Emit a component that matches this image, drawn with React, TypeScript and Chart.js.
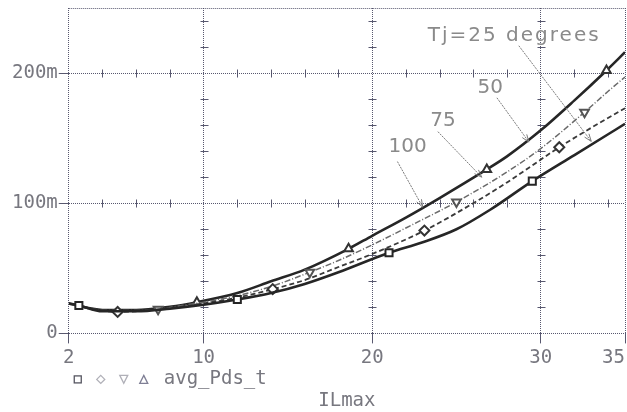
import React, { useEffect, useRef } from 'react';
import { Chart, registerables } from 'chart.js';

Chart.register(...registerables);

// ---- data (y values in milli-units, "m") ----
const xTickValues = [2, 10, 20, 30, 35];
const yTickValues = [0, 100, 200];
const minorXTicks = [4, 6, 8, 12, 14, 16, 18, 22, 24, 26, 28, 32, 34];
const minorYTicks = [20, 40, 60, 80, 120, 140, 160, 180, 220, 240];

// Tj = 25 (bottom solid, square markers)
const sqX = [2, 2.6, 4, 6, 8, 10, 12, 14, 16, 18, 21, 23, 25, 27, 29.5, 32, 34, 35];
const sqY = [23, 21.5, 17, 17, 19, 22, 26, 31, 38, 47, 62, 70, 80, 95, 117, 137, 153, 161];
const sqMarks = [2.6, 12, 21, 29.5];

// dashed, diamond markers
const dmX = [2, 4, 4.9, 6, 8, 10, 12, 14.1, 16, 18, 20, 23.1, 26, 28, 31.1, 33, 35];
const dmY = [23, 17.5, 16.5, 17, 19.5, 23, 27.5, 34, 41, 51, 61, 79, 100, 116, 143, 158, 173];
const dmMarks = [4.9, 14.1, 23.1, 31.1];

// dash-dot, down-triangle markers
const tdX = [2, 4, 6, 7.3, 8, 10, 12, 14, 16.3, 18, 20, 22, 25, 28, 30, 32.6, 34, 35];
const tdY = [23, 17.5, 17.5, 18.5, 20, 24, 29, 36, 47, 56, 68, 81, 101, 124, 142, 170, 186, 197];
const tdMarks = [7.3, 16.3, 25, 32.6];

// top solid, up-triangle markers
const tuX = [2, 4, 6, 8, 9.6, 12, 14, 16, 18.6, 20, 22, 24, 26.8, 28, 30, 32, 33.9, 35];
const tuY = [23, 18, 18, 20.5, 24, 31, 40, 49, 65, 75, 89, 104, 126, 136, 156, 179, 202, 216];
const tuMarks = [9.6, 18.6, 26.8, 33.9];

// annotations: label, text anchor (x, y), arrow start, arrow end (data units)
const noteLabels = ['Tj=25 degrees', '50', '75', '100'];
const noteText = [[23.3, 229], [27.0, 188.5], [24.2, 163.5], [22.1, 143]];
const noteFrom = [[28.7, 221], [27.4, 181], [23.9, 155], [21.5, 132]];
const noteTo = [[33.0, 147.5], [29.3, 147], [26.5, 120], [23.0, 97]];

const legendText = 'avg_Pds_t';
const xTitle = 'ILmax';

const MONO = "'DejaVu Sans Mono', monospace";
const SANS = "'DejaVu Sans', sans-serif";
const GRID = 'rgba(70,70,95,0.9)';
const TEXT = '#77777f';

const pts = (xs: number[], ys: number[]) => xs.map((x, i) => ({ x, y: ys[i] }));
const radiusAt = (marks: number[]) => (c: any) => (c.raw && marks.includes(c.raw.x) ? 5 : 0);

const decoPlugin = {
  id: 'deco',
  beforeDatasetsDraw(chart: any) {
    const { ctx, chartArea: a, scales } = chart;
    const x = scales.x, y = scales.y;
    ctx.save();
    ctx.strokeStyle = GRID;
    ctx.lineWidth = 1;
    ctx.setLineDash([1, 1]);
    ctx.beginPath();
    ctx.moveTo(a.left, Math.round(a.top) + 0.5);
    ctx.lineTo(a.right, Math.round(a.top) + 0.5);
    ctx.stroke();
    ctx.setLineDash([]);
    ctx.beginPath();
    [100, 200].forEach((yv) => {
      const py = Math.round(y.getPixelForValue(yv)) + 0.5;
      minorXTicks.forEach((xv) => {
        const px = Math.round(x.getPixelForValue(xv)) + 0.5;
        ctx.moveTo(px, py - 4);
        ctx.lineTo(px, py + 4);
      });
    });
    [10, 20, 30].forEach((xv) => {
      const px = Math.round(x.getPixelForValue(xv)) + 0.5;
      minorYTicks.forEach((yv) => {
        const py = Math.round(y.getPixelForValue(yv)) + 0.5;
        ctx.moveTo(px - 4, py);
        ctx.lineTo(px + 4, py);
      });
    });
    ctx.stroke();
    ctx.restore();
  },
  afterDatasetsDraw(chart: any) {
    const { ctx, chartArea: a, scales } = chart;
    const x = scales.x, y = scales.y;
    ctx.save();
    // annotations
    ctx.font = `20px ${SANS}`;
    ctx.fillStyle = '#8a8a8a';
    ctx.textBaseline = 'middle';
    noteLabels.forEach((lab, i) => {
      const tx = x.getPixelForValue(noteText[i][0]);
      const ty = y.getPixelForValue(noteText[i][1]);
      ctx.textAlign = i === 0 ? 'left' : 'center';
      (ctx as any).letterSpacing = i === 0 ? '2px' : '0px';
      ctx.fillText(lab, tx, ty);
      (ctx as any).letterSpacing = '0px';
      const x1 = x.getPixelForValue(noteFrom[i][0]);
      const y1 = y.getPixelForValue(noteFrom[i][1]);
      const x2 = x.getPixelForValue(noteTo[i][0]);
      const y2 = y.getPixelForValue(noteTo[i][1]);
      ctx.strokeStyle = '#7a7a7a';
      ctx.lineWidth = 1;
      ctx.setLineDash([2, 1]);
      ctx.beginPath();
      ctx.moveTo(x1, y1);
      ctx.lineTo(x2, y2);
      ctx.stroke();
      ctx.setLineDash([]);
      const ang = Math.atan2(y2 - y1, x2 - x1);
      const h = 8;
      ctx.beginPath();
      ctx.moveTo(x2 - h * Math.cos(ang - 0.35), y2 - h * Math.sin(ang - 0.35));
      ctx.lineTo(x2, y2);
      ctx.lineTo(x2 - h * Math.cos(ang + 0.35), y2 - h * Math.sin(ang + 0.35));
      ctx.stroke();
    });
    // legend row
    const ly = a.bottom + 46;
    const lx = a.left;
    ctx.lineWidth = 1.3;
    ctx.strokeStyle = '#555560';
    ctx.strokeRect(lx + 5.5, ly - 3.5, 7, 7);
    ctx.strokeStyle = '#b0b0b8';
    ctx.beginPath();
    ctx.moveTo(lx + 32, ly - 4); ctx.lineTo(lx + 36, ly); ctx.lineTo(lx + 32, ly + 4); ctx.lineTo(lx + 28, ly); ctx.closePath();
    ctx.stroke();
    ctx.beginPath();
    ctx.moveTo(lx + 51, ly - 4); ctx.lineTo(lx + 59, ly - 4); ctx.lineTo(lx + 55, ly + 4); ctx.closePath();
    ctx.stroke();
    ctx.strokeStyle = '#7f7f95';
    ctx.beginPath();
    ctx.moveTo(lx + 75, ly - 4); ctx.lineTo(lx + 79, ly + 4); ctx.lineTo(lx + 71, ly + 4); ctx.closePath();
    ctx.stroke();
    ctx.font = `19px ${MONO}`;
    ctx.fillStyle = TEXT;
    ctx.textAlign = 'left';
    ctx.textBaseline = 'middle';
    ctx.fillText(legendText, lx + 95, ly);
    ctx.restore();
  },
};

export default function App() {
  const ref = useRef<HTMLCanvasElement>(null);
  useEffect(() => {
    document.body.style.margin = '0';
    const lineBase = { fill: false, cubicInterpolationMode: 'monotone' as const, pointBackgroundColor: '#ffffff', pointBorderWidth: 2, pointHoverRadius: 0 };
    const chart = new Chart(ref.current!, {
      type: 'line',
      data: {
        datasets: [
          { ...lineBase, label: 'Tj=25', data: pts(sqX, sqY), borderColor: '#262626', borderWidth: 2.6, pointStyle: 'rect', pointRadius: radiusAt(sqMarks), pointBorderColor: '#262626' },
          { ...lineBase, label: 'Tj=50', data: pts(dmX, dmY), borderColor: '#3a3a3a', borderWidth: 1.8, borderDash: [5, 3], pointStyle: 'rectRot', pointRadius: radiusAt(dmMarks), pointBorderColor: '#333' },
          { ...lineBase, label: 'Tj=75', data: pts(tdX, tdY), borderColor: '#6a6a6a', borderWidth: 1.5, borderDash: [6, 2, 1, 2], pointStyle: 'triangle', rotation: 180, pointRadius: radiusAt(tdMarks), pointBorderColor: '#555' },
          { ...lineBase, label: 'Tj=100', data: pts(tuX, tuY), borderColor: '#262626', borderWidth: 2.6, pointStyle: 'triangle', pointRadius: radiusAt(tuMarks), pointBorderColor: '#333' },
        ],
      },
      options: {
        animation: false,
        responsive: true,
        maintainAspectRatio: false,
        layout: { padding: { left: 11, right: 2, top: 8, bottom: 0 } },
        plugins: { legend: { display: false }, tooltip: { enabled: false } },
        scales: {
          x: {
            type: 'linear',
            min: 2,
            max: 35,
            afterBuildTicks: (s: any) => { s.ticks = xTickValues.map((v) => ({ value: v })); },
            afterFit: (s: any) => { s.paddingLeft = 0; s.paddingRight = 0; },
            grid: { color: GRID, lineWidth: 1, tickLength: 10, tickColor: GRID },
            border: { display: false, dash: [1, 1] },
            ticks: {
              font: { family: MONO, size: 19 },
              color: TEXT,
              padding: 3,
              maxRotation: 0,
              autoSkip: false,
              callback: (v: any) => (v === 35 ? '35  ' : String(v)),
            },
            title: { display: true, text: xTitle, font: { family: MONO, size: 19 }, color: TEXT, padding: { top: 17, bottom: 0 } },
          },
          y: {
            type: 'linear',
            min: 0,
            max: 250,
            afterBuildTicks: (s: any) => { s.ticks = yTickValues.map((v) => ({ value: v })); },
            afterFit: (s: any) => { s.paddingTop = 0; s.paddingBottom = 0; },
            grid: { color: GRID, lineWidth: 1, tickLength: 10, tickColor: GRID },
            border: { display: false, dash: [1, 1] },
            ticks: {
              font: { family: MONO, size: 19 },
              color: TEXT,
              padding: 1,
              autoSkip: false,
              callback: (v: any) => (v === 0 ? '0' : `${v}m`),
            },
          },
        },
      },
      plugins: [decoPlugin],
    } as any);
    return () => chart.destroy();
  }, []);
  return (
    <div style={{ width: 627, height: 412, position: 'relative', background: '#fff' }}>
      <canvas ref={ref} />
    </div>
  );
}
